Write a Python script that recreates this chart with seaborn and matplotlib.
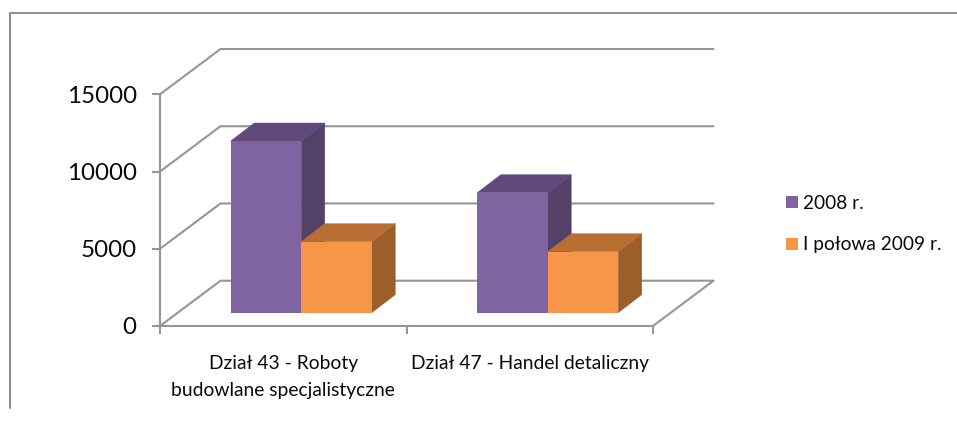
import matplotlib
matplotlib.use("Agg")
import matplotlib.pyplot as plt
from matplotlib.lines import Line2D
from matplotlib.patches import Polygon
import pandas as pd
import seaborn as sns

categories = ["Dział 43 - Roboty\nbudowlane specjalistyczne", "Dział 47 - Handel detaliczny"]
series_names = ["2008 r.", "I połowa 2009 r."]
values_2008 = [11115, 7770]
values_2009 = [4600, 3950]
y_ticks = [0, 5000, 10000, 15000]

W, H = 957, 425
GRAY = "#959595"
FRONT = ["#8064A2", "#F79646"]
TOP = ["#604A7B", "#B96F33"]
SIDE = ["#534168", "#9C5F2C"]

sns.set_theme(style="white")
plt.rcParams["font.family"] = ["Lato", "DejaVu Sans"]

df = pd.DataFrame({
    "cat": categories * 2,
    "series": [series_names[0]] * 2 + [series_names[1]] * 2,
    "value": values_2008 + values_2009,
})

fig = plt.figure(figsize=(W / 100, H / 100), dpi=100, facecolor="white")

def rect(x0, x1, y_top, y_bot):
    return [x0 / W, 1 - y_bot / H, (x1 - x0) / W, (y_bot - y_top) / H]

# Front plane of the chart box: axis, ticks, labels
L, R, T, B = 160, 653, 94.3, 326
ax = fig.add_axes(rect(L, R, T, B), facecolor="none")
ax.set_xlim(-0.5, 1.5)
ax.set_ylim(0, 15000)
ax.set_yticks(y_ticks)
ax.set_xticks([0, 1])
ax.set_xticklabels(categories, fontsize=13.85, color="#0A0A0A", linespacing=1.72)
ax.set_xticks([-0.5, 0.5, 1.5], minor=True)
ax.tick_params(axis="x", which="major", length=0, pad=21)
ax.tick_params(axis="x", which="minor", length=5.5, width=1.5, color=GRAY, bottom=True)
ax.tick_params(axis="y", length=5.8, width=1.5, color=GRAY, left=True, pad=11,
               labelsize=17.4, labelcolor="#0A0A0A")
for s in ["top", "right"]:
    ax.spines[s].set_visible(False)
for s in ["left", "bottom"]:
    ax.spines[s].set_color(GRAY)
    ax.spines[s].set_linewidth(1.5)

# Depth of the box, as data offsets
box_dx = 60.5 / (R - L) * 2
box_dy = 45.3 / (B - T) * 15000
for v in y_ticks:
    ax.plot([-0.5, -0.5 + box_dx, 1.5 + box_dx], [v, v + box_dy, v + box_dy],
            color=GRAY, lw=1.5, clip_on=False, zorder=1)
ax.plot([1.5, 1.5 + box_dx], [0, box_dy], color=GRAY, lw=1.5, clip_on=False, zorder=1)

# Bars, on the plane inside the box
sx, sy = 18, 13.3
ax2 = fig.add_axes(rect(L + sx, R + sx, T - sy, B - sy), facecolor="none")
sns.barplot(data=df, x="cat", y="value", hue="series", hue_order=series_names,
            palette=FRONT, width=0.572, gap=0, saturation=1, ax=ax2, linewidth=0,
            order=categories)
ax2.set_xlim(-0.5, 1.5)
ax2.set_ylim(0, 15000)
ax2.axis("off")

bar_dx = 23.5 / (R - L) * 2
bar_dy = 18.0 / (B - T) * 15000
for c, container in enumerate(ax2.containers):
    for bar in container:
        x0, w, h = bar.get_x(), bar.get_width(), bar.get_height()
        x1 = x0 + w
        ax2.add_patch(Polygon([(x1, 0), (x1 + bar_dx, bar_dy), (x1 + bar_dx, h + bar_dy), (x1, h)],
                              fc=SIDE[c], ec=SIDE[c], lw=0.3, clip_on=False, zorder=1.5 + c))
        ax2.add_patch(Polygon([(x0, h), (x1, h), (x1 + bar_dx, h + bar_dy), (x0 + bar_dx, h + bar_dy)],
                              fc=TOP[c], ec=TOP[c], lw=0.3, clip_on=False, zorder=1.5 + c))
        bar.set_zorder(2 + c)

# Legend
sns.move_legend(ax2, "upper left", bbox_to_anchor=(786 / W, 1 - 195 / H),
                bbox_transform=fig.transFigure, frameon=False, title=None,
                fontsize=13.75, handlelength=0.62, handleheight=0.62,
                handletextpad=0.25, labelspacing=1.28, borderpad=0, borderaxespad=0)
for t in ax2.get_legend().get_texts():
    t.set_color("#0A0A0A")

# Outer chart border
fig.add_artist(Line2D([9.5 / W, 9.5 / W, 1], [1 - 408 / H, 1 - 13 / H, 1 - 13 / H],
                      color="#8C8C8C", lw=1.4))

fig.savefig("out.png", dpi=100)
